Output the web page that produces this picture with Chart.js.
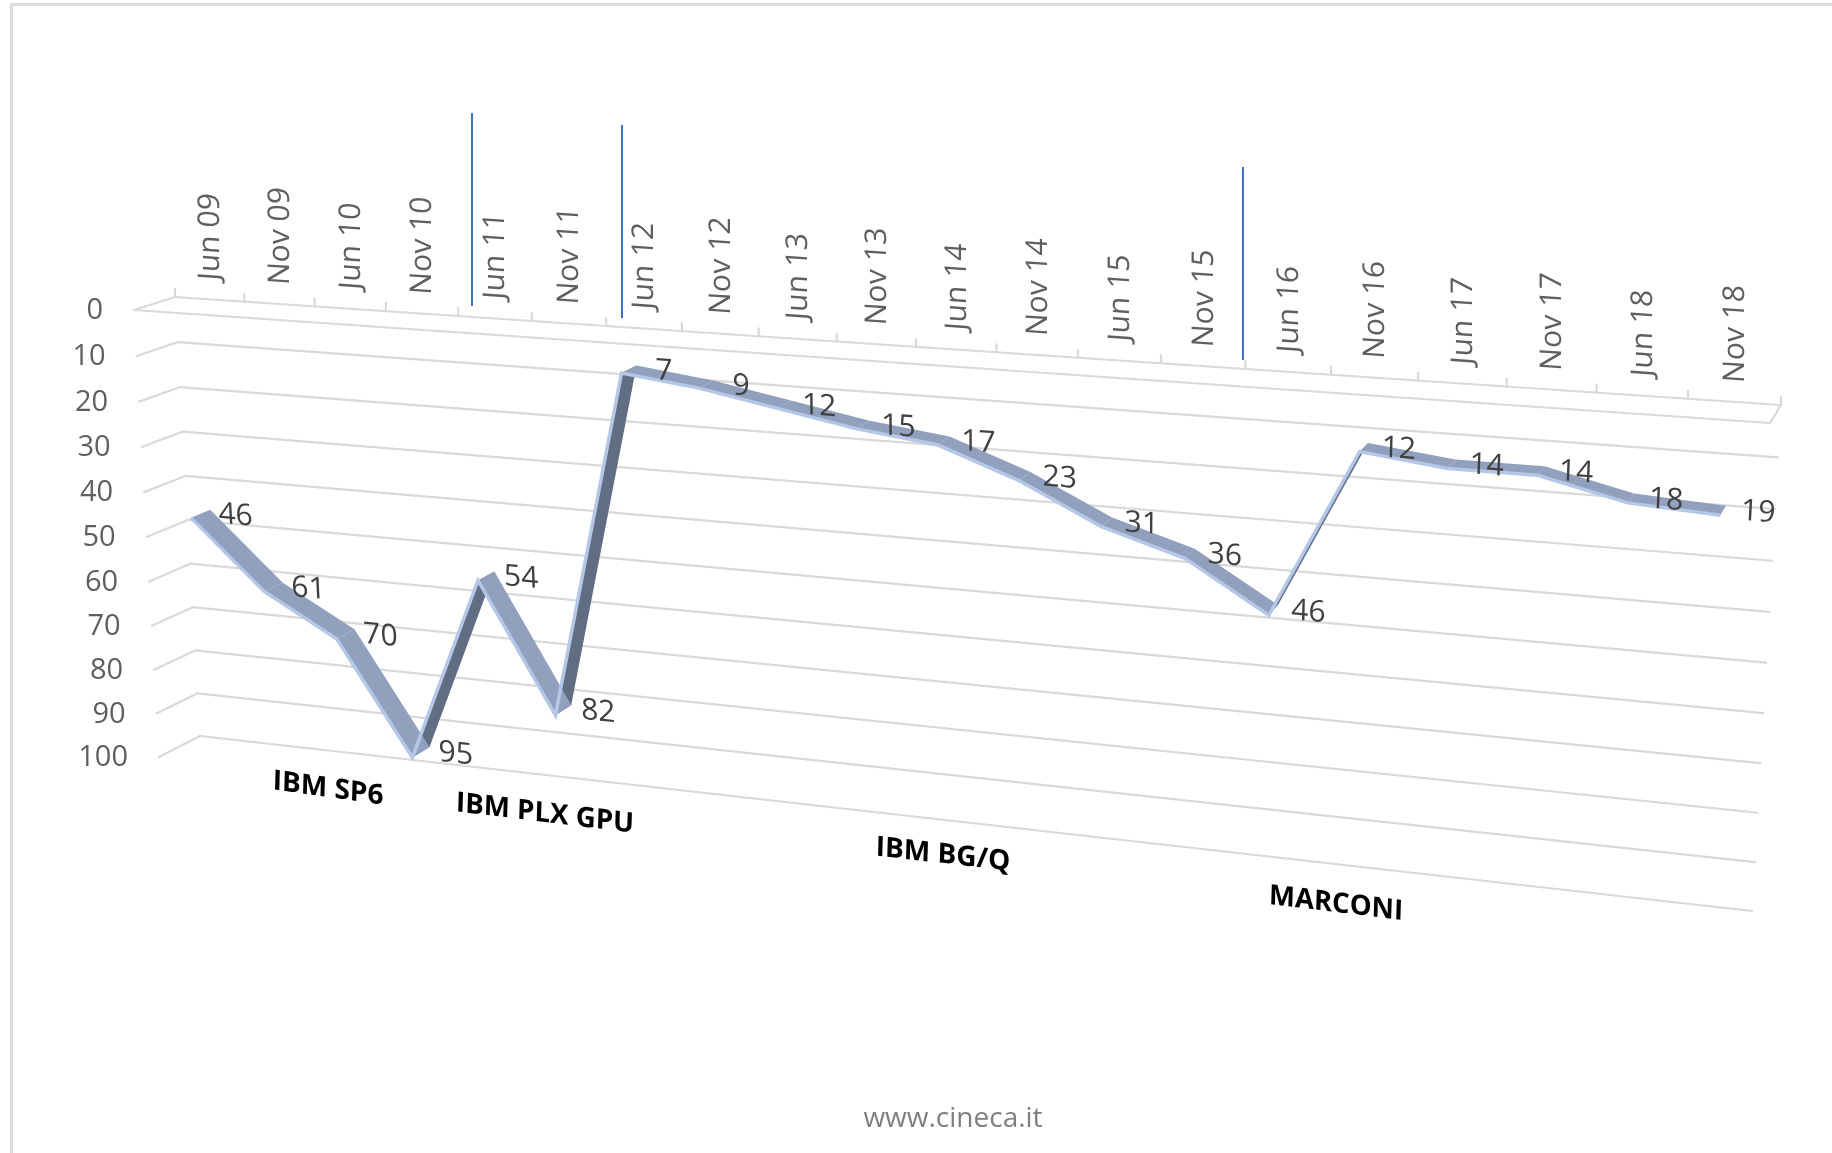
<!DOCTYPE html>
<html>
<head>
<meta charset="utf-8">
<title>Cineca Top500</title>
<script src="https://cdn.jsdelivr.net/npm/chart.js@4"></script>
<style>
  html, body { margin: 0; padding: 0; background: #fff; }
  #wrap { position: relative; width: 1832px; height: 1153px; overflow: hidden; }
  #wrap::before { content: ""; position: absolute; left: 10px; top: 3px; right: 0; bottom: 0;
    border-left: 3px solid #dcdcdc; border-top: 3px solid #dcdcdc; }
  canvas { position: absolute; left: 0; top: 0; }
</style>
</head>
<body>
<div id="wrap"><canvas id="chart" width="1832" height="1153"></canvas></div>
<script>
const categories = ["Jun 09", "Nov 09", "Jun 10", "Nov 10", "Jun 11", "Nov 11", "Jun 12", "Nov 12", "Jun 13", "Nov 13",
  "Jun 14", "Nov 14", "Jun 15", "Nov 15", "Jun 16", "Nov 16", "Jun 17", "Nov 17", "Jun 18", "Nov 18"];
const ranks = [46, 61, 70, 95, 54, 82, 7, 9, 12, 15, 17, 23, 31, 36, 46, 12, 14, 14, 18, 19];
const systems = ["IBM SP6", "IBM PLX GPU", "IBM BG/Q", "MARCONI"];
const footer = "www.cineca.it";

// the picture is a 3D box seen in perspective: corners of its back wall on the page
const TL = [175, 297], TR = [1781, 405], BR = [1752, 911], BL = [200, 736];
const GREY = "#d9d9d9", TEXT = "#5f5f5f";

// unit square -> quad
const dx1 = TR[0] - BR[0], dx2 = BL[0] - BR[0], sx = TL[0] - TR[0] + BR[0] - BL[0];
const dy1 = TR[1] - BR[1], dy2 = BL[1] - BR[1], sy = TL[1] - TR[1] + BR[1] - BL[1];
const den = dx1 * dy2 - dx2 * dy1;
const g = (sx * dy2 - dx2 * sy) / den, h = (dx1 * sy - sx * dy1) / den;

function wall(u, v) {
  const w = g * u + h * v + 1;
  return [
    ((TR[0] - TL[0] + g * TR[0]) * u + (BL[0] - TL[0] + h * BL[0]) * v + TL[0]) / w,
    ((TR[1] - TL[1] + g * TR[1]) * u + (BL[1] - TL[1] + h * BL[1]) * v + TL[1]) / w
  ];
}

// depth 0 = back wall, depth 1 = front of the box
function project(u, v, depth) {
  const p = wall(u, v);
  return [p[0] + depth * (-41 + 30 * u), p[1] + depth * (13 + 8 * v - 3 * u * (1 - v) + 8 * u)];
}

function uv(chart, px, py) {
  const a = chart.chartArea;
  return [(px - a.left) / (a.right - a.left), (py - a.top) / (a.bottom - a.top)];
}

// local directions of the wall, used to lean the text with the perspective
function frame(u, v) {
  const p = wall(u, v), q = wall(u + 0.01, v), r = wall(u, v + 0.01);
  return { slope: (q[1] - p[1]) / (q[0] - p[0]), lean: (r[0] - p[0]) / (r[1] - p[1]) };
}

function seg(ctx, a, b) {
  ctx.beginPath();
  ctx.moveTo(a[0], a[1]);
  ctx.lineTo(b[0], b[1]);
  ctx.stroke();
}

const RIBBON_FRONT = 0.74, RIBBON_BACK = 0.26;

const perspective = {
  id: "perspective",
  afterDatasetsUpdate(chart) {
    const meta = chart.getDatasetMeta(0);
    meta.data.forEach(pt => {
      const c = uv(chart, pt.x, pt.y);
      const p = project(c[0], c[1], RIBBON_FRONT);
      pt.x = p[0];
      pt.y = p[1];
    });
  },
  beforeDatasetsDraw(chart) {
    const ctx = chart.ctx, x = chart.scales.x, y = chart.scales.y;
    ctx.save();
    ctx.strokeStyle = GREY;
    ctx.lineWidth = 2.2;
    ctx.lineCap = "round";

    // value grid
    y.ticks.forEach(t => {
      const v = uv(chart, x.left, y.getPixelForValue(t.value))[1];
      seg(ctx, wall(0, v), wall(1, v));
      seg(ctx, wall(0, v), project(0, v, 1));
    });
    // floor edge and ticks along the top
    seg(ctx, project(0, 0, 1), project(1, 0, 1));
    seg(ctx, project(1, 0, 1), wall(1, 0));
    const band = x.width / categories.length;
    for (let i = 0; i <= categories.length; i++) {
      const u = uv(chart, x.getPixelForValue(0) - band / 2 + i * band, y.top)[0];
      const p = wall(u, 0);
      seg(ctx, p, [p[0], p[1] - 8]);
    }

    // ribbon: dark faces first, the lighter ones lie over them
    const pts = ranks.map((r, i) => uv(chart, x.getPixelForValue(i), y.getPixelForValue(r)));
    [true, false].forEach(rising => {
      for (let i = 0; i < pts.length - 1; i++) {
        if ((ranks[i + 1] < ranks[i] - 20) !== rising) continue;
        const a = project(pts[i][0], pts[i][1], RIBBON_FRONT), b = project(pts[i + 1][0], pts[i + 1][1], RIBBON_FRONT);
        const c = project(pts[i + 1][0], pts[i + 1][1], RIBBON_BACK), d = project(pts[i][0], pts[i][1], RIBBON_BACK);
        ctx.fillStyle = rising ? "#616d82" : "#90a0bd";
        ctx.beginPath();
        ctx.moveTo(a[0], a[1]);
        ctx.lineTo(b[0], b[1]);
        ctx.lineTo(c[0], c[1]);
        ctx.lineTo(d[0], d[1]);
        ctx.closePath();
        ctx.fill();
      }
    });
    ctx.restore();
  },
  afterDatasetsDraw(chart) {
    const ctx = chart.ctx, x = chart.scales.x, y = chart.scales.y;
    ctx.save();
    ctx.textBaseline = "middle";

    // category labels, turned on their side above the top edge
    ctx.fillStyle = TEXT;
    ctx.font = "30px 'Open Sans'";
    ctx.textAlign = "left";
    categories.forEach((c, i) => {
      const u = uv(chart, x.getPixelForValue(i), y.top)[0];
      const p = wall(u, 0), f = frame(u, 0);
      ctx.save();
      ctx.transform(0, -1, 1, f.slope, p[0] + 1, p[1] - 19);
      ctx.fillText(c, 0, 0);
      ctx.restore();
    });

    // value labels, right of the left stubs
    ctx.font = "29px 'Open Sans'";
    ctx.textAlign = "right";
    y.ticks.forEach(t => {
      const v = uv(chart, x.left, y.getPixelForValue(t.value))[1];
      const p = project(0, v, 1);
      ctx.fillText(t.value, p[0] - 31, p[1] + 1);
    });

    // data labels
    ctx.fillStyle = "#404040";
    ctx.font = "30px 'Open Sans'";
    ctx.textAlign = "center";
    ranks.forEach((r, i) => {
      const c = uv(chart, x.getPixelForValue(i), y.getPixelForValue(r));
      const p = project(c[0], c[1], 0.5), f = frame(c[0], c[1]);
      ctx.save();
      ctx.transform(1, f.slope, f.lean, 1, p[0] + 35, p[1] + 2);
      ctx.fillText(r, 0, 0);
      ctx.restore();
    });

    // system names on the floor below the grid
    ctx.fillStyle = "#000";
    ctx.font = "bold 28px 'Open Sans'";
    const anchors = [[328, 789, 0.14, 112], [545, 814, 0.12, 178], [943, 855, 0.11, 137], [1336, 904, 0.12, 134]];
    systems.forEach((s, i) => {
      const a = anchors[i];
      ctx.save();
      ctx.transform(1, a[2], -0.03, 1, a[0], a[1]);
      ctx.fillText(s, 0, 0, a[3]);
      ctx.restore();
    });

    // machine change markers
    ctx.strokeStyle = "#3f6fc4";
    ctx.lineWidth = 2;
    ctx.lineCap = "butt";
    [[472, 113, 306], [622, 125, 318], [1243, 167, 360]].forEach(m => seg(ctx, [m[0], m[1]], [m[0], m[2]]));

    ctx.fillStyle = "#7f7f7f";
    ctx.font = "28px 'Open Sans'";
    ctx.fillText(footer, 953, 1119);
    ctx.restore();
  }
};

new Chart(document.getElementById("chart"), {
  type: "line",
  data: {
    labels: categories,
    datasets: [{
      label: "Top500 rank",
      data: ranks,
      borderColor: "#b4c7e7",
      borderWidth: 3.5,
      pointRadius: 0,
      tension: 0
    }]
  },
  options: {
    responsive: false,
    animation: false,
    layout: { padding: 100 },
    plugins: { legend: { display: false }, tooltip: { enabled: false } },
    scales: {
      x: { display: false, offset: true },
      y: { display: false, reverse: true, min: 0, max: 100, ticks: { stepSize: 10 } }
    }
  },
  plugins: [perspective]
});
</script>
</body>
</html>
